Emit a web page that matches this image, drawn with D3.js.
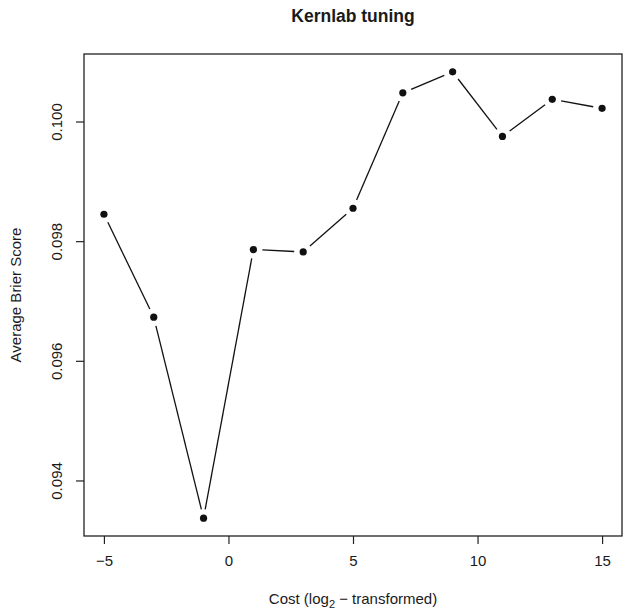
<!DOCTYPE html>
<html>
<head>
<meta charset="utf-8">
<script src="https://cdn.jsdelivr.net/npm/d3@7"></script>
<style>
  html, body { margin: 0; padding: 0; background: #fff; }
  text { font-family: "Liberation Sans", Arial, Helvetica, sans-serif; fill: #1a1a1a; }
</style>
</head>
<body>
<svg id="chart" width="624" height="610"></svg>
<script>
// Data
const costLog2 = [-5, -3, -1, 1, 3, 5, 7, 9, 11, 13, 15];
const brierScore = [0.09845, 0.09673, 0.09337, 0.09786, 0.09782, 0.09855, 0.10048, 0.10083, 0.09975, 0.10037, 0.10022];
const xTicks = [-5, 0, 5, 10, 15];
const yTicks = [0.094, 0.096, 0.098, 0.100];
const yTickLabels = ["0.094", "0.096", "0.098", "0.100"];
const titleText = "Kernlab tuning";
const yTitle = "Average Brier Score";

const svg = d3.select("#chart");
const box = { left: 84, right: 622, top: 54, bottom: 536 };

// R-style 4% padding
const xExt = d3.extent(costLog2), xPad = (xExt[1] - xExt[0]) * 0.04;
const yExt = d3.extent(brierScore), yPad = (yExt[1] - yExt[0]) * 0.04;
const x = d3.scaleLinear().domain([xExt[0] - xPad, xExt[1] + xPad]).range([box.left, box.right]);
const y = d3.scaleLinear().domain([yExt[0] - yPad, yExt[1] + yPad]).range([box.bottom, box.top]);

// Box
svg.append("rect")
  .attr("x", box.left).attr("y", box.top)
  .attr("width", box.right - box.left).attr("height", box.bottom - box.top)
  .attr("fill", "none").attr("stroke", "#222").attr("stroke-width", 1.3);

// X axis
const xAxis = d3.axisBottom(x).tickValues(xTicks).tickSize(8).tickPadding(11)
  .tickFormat(d => d < 0 ? "\u2212" + Math.abs(d) : String(d));
const gx = svg.append("g").attr("transform", `translate(0,${box.bottom})`).call(xAxis);
gx.select(".domain").remove();
gx.selectAll(".tick line").attr("stroke", "#222").attr("stroke-width", 1.2);
gx.selectAll(".tick text").attr("font-size", 15).attr("fill", "#1a1a1a")
  .attr("font-family", "Liberation Sans, Arial, sans-serif");

// Y axis
const yAxis = d3.axisLeft(y).tickValues(yTicks).tickSize(8)
  .tickFormat((d, i) => yTickLabels[i]);
const gy = svg.append("g").attr("transform", `translate(${box.left},0)`).call(yAxis);
gy.select(".domain").remove();
gy.selectAll(".tick line").attr("stroke", "#222").attr("stroke-width", 1.2);
gy.selectAll(".tick text")
  .attr("font-size", 15).attr("fill", "#1a1a1a")
  .attr("font-family", "Liberation Sans, Arial, sans-serif")
  .attr("x", null).attr("dy", null)
  .attr("text-anchor", "middle")
  .attr("transform", "translate(-22,0) rotate(-90)");

// Line segments with gaps (type = "b")
const gap = 9;
const pts = costLog2.map((c, i) => [x(c), y(brierScore[i])]);
const segs = [];
for (let i = 0; i < pts.length - 1; i++) {
  const [x1, y1] = pts[i], [x2, y2] = pts[i + 1];
  const dx = x2 - x1, dy = y2 - y1, len = Math.hypot(dx, dy);
  if (len > 2 * gap) {
    const ux = dx / len, uy = dy / len;
    segs.push([x1 + ux * gap, y1 + uy * gap, x2 - ux * gap, y2 - uy * gap]);
  }
}
svg.append("g").selectAll("line").data(segs).join("line")
  .attr("x1", d => d[0]).attr("y1", d => d[1])
  .attr("x2", d => d[2]).attr("y2", d => d[3])
  .attr("stroke", "#111").attr("stroke-width", 1.3);

// Points
svg.append("g").selectAll("circle").data(costLog2).join("circle")
  .attr("cx", d => x(d)).attr("cy", (d, i) => y(brierScore[i]))
  .attr("r", 3.6).attr("fill", "#111");

// Title
const cx = (box.left + box.right) / 2;
svg.append("text").attr("x", cx).attr("y", 22)
  .attr("text-anchor", "middle").attr("font-size", 17.5).attr("font-weight", "bold")
  .text(titleText);

// X title
const xt = svg.append("text").attr("x", cx).attr("y", 604)
  .attr("text-anchor", "middle").attr("font-size", 15);
xt.append("tspan").text("Cost (log");
xt.append("tspan").attr("font-size", 11).attr("dy", 4).text("2");
xt.append("tspan").attr("dy", -4).text(" \u2212 transformed)");

// Y title
svg.append("text")
  .attr("transform", `translate(21,${(box.top + box.bottom) / 2}) rotate(-90)`)
  .attr("text-anchor", "middle").attr("font-size", 15)
  .text(yTitle);
</script>
</body>
</html>
